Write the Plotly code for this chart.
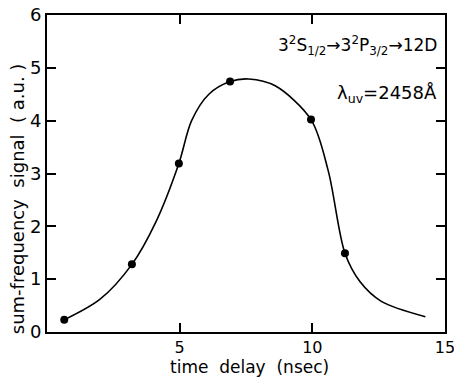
import plotly.graph_objects as go

# measured data points
time_delay = [0.65, 3.2, 4.97, 6.9, 9.95, 11.23]
signal = [0.23, 1.28, 3.19, 4.74, 4.02, 1.49]

# hand-drawn smooth curve
curve_x = [0.65, 2.0, 3.2, 4.1, 4.97, 5.45, 6.1, 6.9, 7.6, 8.6, 9.95, 10.6, 11.23, 11.8, 12.6, 14.26]
curve_y = [0.23, 0.62, 1.28, 2.08, 3.19, 4.0, 4.5, 4.74, 4.79, 4.66, 4.02, 3.05, 1.49, 0.95, 0.58, 0.29]

x_ticks = [0, 5, 10, 15]
x_ticktext = ["", "5", "10", "15"]
y_ticks = [0, 1, 2, 3, 4, 5, 6]

FONT = "DejaVu Sans"

fig = go.Figure()
fig.add_trace(go.Scatter(x=curve_x, y=curve_y, mode="lines",
                         line=dict(color="black", width=1.6, shape="spline", smoothing=0.9),
                         hoverinfo="skip", showlegend=False))
fig.add_trace(go.Scatter(x=time_delay, y=signal, mode="markers",
                         marker=dict(color="black", size=8),
                         showlegend=False))

fig.update_layout(
    width=454, height=381,
    margin=dict(l=47, r=9, t=15, b=49),
    paper_bgcolor="white", plot_bgcolor="white",
    font=dict(family=FONT, color="black"),
    xaxis=dict(range=[0, 15], tickvals=x_ticks, ticktext=x_ticktext,
               ticks="inside", ticklen=9, tickwidth=1.5, tickcolor="black",
               showline=True, linecolor="black", linewidth=2, mirror="ticks",
               showgrid=False, zeroline=False, automargin=False,
               ticklabeloverflow="allow",
               tickfont=dict(size=16, family=FONT)),
    yaxis=dict(range=[0, 6], tickvals=y_ticks,
               ticks="inside", ticklen=9, tickwidth=1.5, tickcolor="black",
               showline=True, linecolor="black", linewidth=2, mirror="ticks",
               showgrid=False, zeroline=False, automargin=False,
               tickfont=dict(size=18, family=FONT)),
)

# axis titles
fig.add_annotation(text="time  delay  (nsec)", xref="paper", yref="paper",
                   x=0.51, y=-0.11, xanchor="center", yanchor="middle",
                   showarrow=False, font=dict(size=17, family=FONT))
fig.add_annotation(text="sum-frequency  signal  ( a.u. )", xref="paper", yref="paper",
                   x=-0.072, y=0.42, xanchor="center", yanchor="middle", textangle=-90,
                   showarrow=False, font=dict(size=18, family=FONT))

fig.add_annotation(text="3<sup>2</sup>S<sub>1/2</sub>\u21923<sup>2</sup>P<sub>3/2</sub>\u219212D",
                   xref="paper", yref="paper", x=0.985, y=0.905, xanchor="right", yanchor="middle",
                   showarrow=False, font=dict(size=17, family=FONT))
fig.add_annotation(text="\u03bb<sub>uv</sub>=2458\u00c5",
                   xref="paper", yref="paper", x=0.985, y=0.75, xanchor="right", yanchor="middle",
                   showarrow=False, font=dict(size=18, family=FONT))

fig.write_html("out.html", config={"displayModeBar": False},
               post_script="document.body.style.margin='0';document.body.style.padding='0';")
